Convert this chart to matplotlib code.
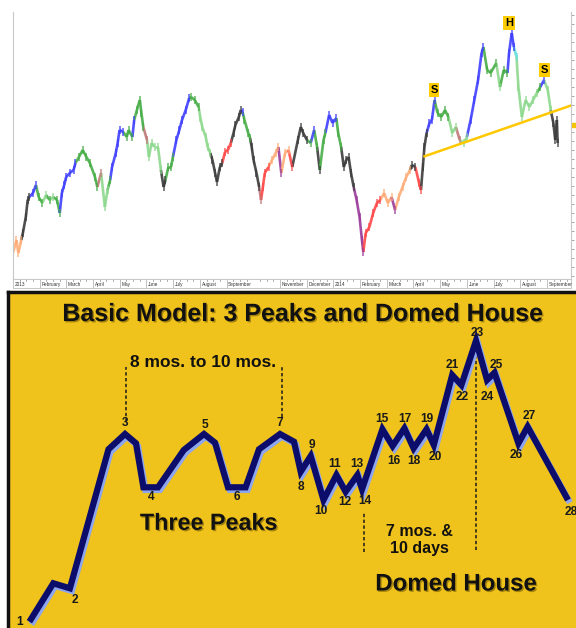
import numpy as np
import matplotlib
matplotlib.use("Agg")
import matplotlib.pyplot as plt
from matplotlib.collections import LineCollection
import matplotlib.patheffects as pe

plt.rcParams['font.family'] = ['Liberation Sans', 'DejaVu Sans']

# ---------------- top chart data (month index, price level, colour code) -------------
month_pos = [0.00, 0.13, 0.20, 0.31, 0.37, 0.48, 0.55, 0.61, 0.75, 0.86, 0.96, 1.10, 1.24, 1.37, 1.51, 1.65,
             1.75, 1.83, 1.92, 1.99, 2.13, 2.27, 2.34, 2.47, 2.61, 2.75, 2.88, 3.07, 3.16, 3.30, 3.44, 3.54,
             3.64, 3.71, 3.85, 3.92, 3.99, 4.13, 4.26, 4.33, 4.47, 4.54, 4.64, 4.75, 4.81, 4.88, 5.02, 5.09,
             5.19, 5.30, 5.43, 5.54, 5.64, 5.71, 5.82, 5.92, 5.99, 6.12, 6.23, 6.33, 6.47, 6.60, 6.67, 6.81,
             6.95, 7.02, 7.09, 7.22, 7.29, 7.39, 7.47, 7.57, 7.64, 7.75, 7.84, 7.94, 8.05, 8.16, 8.26, 8.33,
             8.46, 8.53, 8.60, 8.67, 8.81, 8.88, 8.94, 9.01, 9.12, 9.22, 9.29, 9.36, 9.43, 9.57, 9.70, 9.84,
             9.94, 10.05, 10.19, 10.32, 10.46, 10.67, 10.78, 10.87, 11.01, 11.15, 11.28, 11.39, 11.49, 11.63,
             11.70, 11.84, 11.97, 12.11, 12.18, 12.29, 12.39, 12.48, 12.57, 12.66, 12.76, 12.87, 12.98, 13.07,
             13.12, 13.21, 13.35, 13.49, 13.63, 13.76, 13.90, 14.04, 14.18, 14.31, 14.45, 14.59, 14.73, 14.87,
             14.94, 15.07, 15.21, 15.28, 15.35, 15.41, 15.49, 15.60, 15.69, 15.79, 15.90, 16.04, 16.18, 16.31,
             16.45, 16.59, 16.73, 16.89, 17.00, 17.14, 17.28, 17.42, 17.55, 17.62, 17.76, 17.89, 18.10, 18.24,
             18.38, 18.52, 18.58, 18.68, 18.76, 18.86, 18.93, 19.06, 19.20, 19.34, 19.48, 19.62, 19.75, 19.89,
             20.03, 20.14, 20.24, 20.31, 20.37, 20.40]
price = [27, 40, 27, 40, 47, 63, 80, 83, 87, 95, 83, 77, 85, 80, 83, 80,
         67, 87, 95, 103, 107, 110, 117, 123, 130, 123, 117, 103, 93, 107, 73, 90,
         100, 113, 127, 137, 150, 148, 143, 150, 143, 160, 170, 180, 167, 153, 140, 123,
         137, 133, 133, 110, 93, 100, 113, 113, 123, 140, 150, 160, 170, 182, 183, 180,
         173, 162, 153, 143, 133, 127, 120, 107, 98, 113, 117, 128, 130, 137, 147, 155,
         163, 170, 168, 160, 147, 142, 133, 120, 107, 93, 80, 93, 107, 113, 120, 127,
         133, 107, 127, 130, 113, 140, 153, 147, 140, 137, 150, 133, 110, 140,
         147, 165, 157, 162, 147, 133, 113, 120, 123, 107, 93, 80, 63, 40,
         28, 47, 53, 67, 77, 80, 87, 77, 83, 70, 83, 93, 103, 110,
         115, 113, 97, 90, 113, 133, 147, 157, 160, 180, 167, 163, 170, 163,
         147, 153, 140, 137, 143, 160, 180, 200, 227, 233, 210, 207, 217, 193,
         210, 207, 227, 247, 233, 223, 193, 163, 180, 173, 180, 187, 193, 200,
         190, 170, 157, 140, 160, 137]
bar_colour = list("oooo" "kkkk" "bb"
                  "gglglggbbb"
                  "bbbggggggm"
                  "llgbbbbbgg"
                  "gbggggmlll"
                  "llkkgggbbb"
                  "bbggglllll"
                  "kkkkkrrrkk"
                  "kkbgggkkkk"
                  "mrrrooopoo"
                  "rkkkkgbgkg"
                  "gbbbggkkkk"
                  "kpppprrrrr"
                  "ooo" "p" "oooo" "kk"
                  "rrkkkbbbgg"
                  "ggllmllbbb"
                  "bbggglggbb"
                  "bcllllllgb"
                  "llkkkk")
month_labels = ["2013", "February", "March", "April", "May", "June", "July", "August", "September", "",
                "November", "December", "2014", "February", "March", "April", "May", "June", "July",
                "August", "September"]
hs_labels = ["S", "H", "S"]
hs_pos = [15.77, 18.58, 19.91]
hs_level = [190, 257, 210]
neck_pos = [15.37, 20.92]
neck_level = [123.3, 174.7]

palette = {'o': '#ffad78', 'k': '#3c3c3c', 'b': '#3f3fff', 'g': '#46ad46', 'l': '#8ed98e',
           'r': '#ff4848', 'p': '#9a3a9a', 'm': '#c07878', 'c': '#66dddd'}

# ---------------- bottom model data -------------
model_t = [29.4, 53.3, 69.9, 108.5, 125, 136, 143.4, 158, 183.8, 204, 215, 228, 245.6, 259, 280, 294,
           300.7, 310.7, 323.5, 336.4, 345.6, 357.4, 362, 382.4, 392.6, 404.4, 413.6, 426.5, 433.8,
           452.2, 461.4, 476, 487, 494.5, 518.4, 527.6, 568]
model_level = [6.3, 44.7, 39.7, 178.7, 194, 184.7, 140.7, 140.7, 178, 194, 185.3, 140.7, 140.7, 178.7,
               194, 186.3, 156.3, 172, 128, 153, 136.3, 153, 138.7, 198.7, 182, 199.7, 179.7, 198.7, 183,
               253, 243, 287.3, 248, 255.3, 184.7, 201.3, 128]
model_names = ['1', None, '2', None, '3', None, None, '4', None, '5', None, None, '6', None, '7', None,
               '8', '9', '10', '11', '12', '13', '14', '15', '16', '17', '18', '19', '20',
               '21', '22', '23', '24', '25', '26', '27', '28']
label_offsets = {'1': (-9.4, 0), '2': (5.5, 11.7), '3': (0, -10.7), '4': (-6.5, 10), '5': (1, -9),
                 '6': (-8.6, 10), '7': (0, -10.7), '8': (0, 15), '9': (1, -11), '10': (-3, 10.7),
                 '11': (-2, -11), '12': (-1, 10.6), '13': (-1, -11), '14': (3, 11.4), '15': (-1, -10),
                 '16': (1, 14.7), '17': (0, -9), '18': (0, 12.4), '19': (0, -10), '20': (2, 12.3),
                 '21': (0, -10), '22': (1, 12.3), '23': (1, -7.4), '24': (0, 17), '25': (2, -7.7),
                 '26': (-2.6, 11.7), '27': (2, -10.7), '28': (3.7, 11.7)}

assert len(bar_colour) == len(price) == len(month_pos)

W, H = 576, 628
fig = plt.figure(figsize=(W / 100, H / 100), dpi=100)
fig.patch.set_facecolor('white')


def fx(x):
    return x / W


def fy(y):
    return 1 - y / H


# ---------------- top price chart ----------------
ax1 = fig.add_axes([fx(13), fy(279), fx(571) - fx(13), fy(12) - fy(279)])
ax1.set_xlim(0, 20.9)
ax1.set_ylim(1, 268)
pts = np.column_stack([month_pos, price])
segs = [pts[i:i + 2] for i in range(len(pts) - 1)]
cols = [palette[bar_colour[i + 1]] for i in range(len(pts) - 1)]
ax1.add_collection(LineCollection(segs, colors=cols, linewidths=1.9, capstyle='butt', alpha=0.9))
ax1.vlines(month_pos, np.array(price) - 4, np.array(price) + 4,
           colors=[palette[c] for c in bar_colour], linewidths=1.1, alpha=0.85)
ax1.plot(neck_pos, neck_level, color='#ffc800', lw=1.8, solid_capstyle='butt')
for lab, xp, yp in zip(hs_labels, hs_pos, hs_level):
    ax1.text(xp, yp, lab, ha='center', va='center', fontsize=8, fontweight='bold', color='black',
             bbox=dict(boxstyle='square,pad=0.15', fc='#ffcc00', ec='none'))
ax1.spines['top'].set_visible(False)
for s in ['left', 'bottom', 'right']:
    ax1.spines[s].set_color('#c8c8c8')
    ax1.spines[s].set_linewidth(0.8)
ax1.set_xticks([])
ax1.yaxis.tick_right()
ax1.set_yticks(np.arange(4, 268, 9))
ax1.tick_params(axis='y', length=2.5, color='#999999', labelright=False, width=0.6)
ax1.plot([21.02], [155], marker='s', ms=3, color='#f5c400', clip_on=False)

# date strip
ax2 = fig.add_axes([fx(13), fy(288), fx(571) - fx(13), fy(279) - fy(288)])
ax2.set_xlim(0, 20.9)
ax2.set_ylim(0, 1)
ax2.set_xticks([])
ax2.set_yticks([])
for s in ax2.spines.values():
    s.set_color('#c8c8c8')
    s.set_linewidth(0.7)
for i, lab in enumerate(month_labels):
    for k in (0.25, 0.5, 0.75):
        ax2.plot([i + k, i + k], [0.75, 1.0], color='#888888', lw=0.5)
    if lab:
        ax2.plot([i, i], [0, 1], color='#aaaaaa', lw=0.5)
        ax2.text(i + 0.06, 0.42, lab, fontsize=3.4, va='center', ha='left', color='#333333')

# ---------------- bottom model panel ----------------
ax3 = fig.add_axes([fx(8), 0, 1 - fx(8), fy(292)])
ax3.set_xlim(8, 576)
ax3.set_ylim(0, 336)
ax3.set_facecolor('#efc21c')
ax3.set_xticks([])
ax3.set_yticks([])
ax3.spines['right'].set_visible(False)
ax3.spines['bottom'].set_visible(False)
for s in ['top', 'left']:
    ax3.spines[s].set_color('#111111')
    ax3.spines[s].set_linewidth(2.5)

ax3.plot(model_t, model_level, color='#0c0c6a', lw=4.5, solid_joinstyle='miter', solid_capstyle='butt',
         path_effects=[pe.SimpleLineShadow(offset=(1.4, -1.9), shadow_color='#8ea6ee', alpha=1.0),
                       pe.Normal()], zorder=3)

for name, t, lv in zip(model_names, model_t, model_level):
    if name is None:
        continue
    dx, dy = label_offsets[name]
    ax3.annotate(name, (t, lv), xytext=(dx * 0.72, -dy * 0.72), textcoords='offset points',
                 ha='center', va='center', fontsize=8.6, fontweight='bold', color='#1a1a1a',
                 annotation_clip=False, zorder=4)

dash = dict(color='#1a1a1a', lw=1.1, linestyle=(0, (2.2, 1.6)))
ax3.plot([125.7, 125.7], [206.3, 261.3], **dash)
ax3.plot([282, 282], [211, 261.3], **dash)
ax3.plot([364, 364], [76.3, 116.3], **dash)
ax3.plot([476, 476], [78, 275], **dash)

shadow = [pe.SimplePatchShadow(offset=(1.0, -1.0), shadow_rgbFace='#6a5200', alpha=0.55), pe.Normal()]
ax3.text(303, 314, "Basic Model: 3 Peaks and Domed House", ha='center', va='center', fontsize=18,
         fontweight='bold', color='#111111', path_effects=shadow)
ax3.text(203, 265.3, "8 mos. to 10 mos.", ha='center', va='center', fontsize=12.5, fontweight='bold',
         color='#111111')
ax3.text(208.6, 104.7, "Three Peaks", ha='center', va='center', fontsize=16.8, fontweight='bold',
         color='#111111', path_effects=shadow)
ax3.text(419, 96, "7 mos. &", ha='center', va='center', fontsize=11.5, fontweight='bold', color='#111111')
ax3.text(419, 79, "10 days", ha='center', va='center', fontsize=11.5, fontweight='bold', color='#111111')
ax3.text(456, 44, "Domed House", ha='center', va='center', fontsize=17.3, fontweight='bold',
         color='#111111', path_effects=shadow)

fig.savefig("out.png", dpi=100)
